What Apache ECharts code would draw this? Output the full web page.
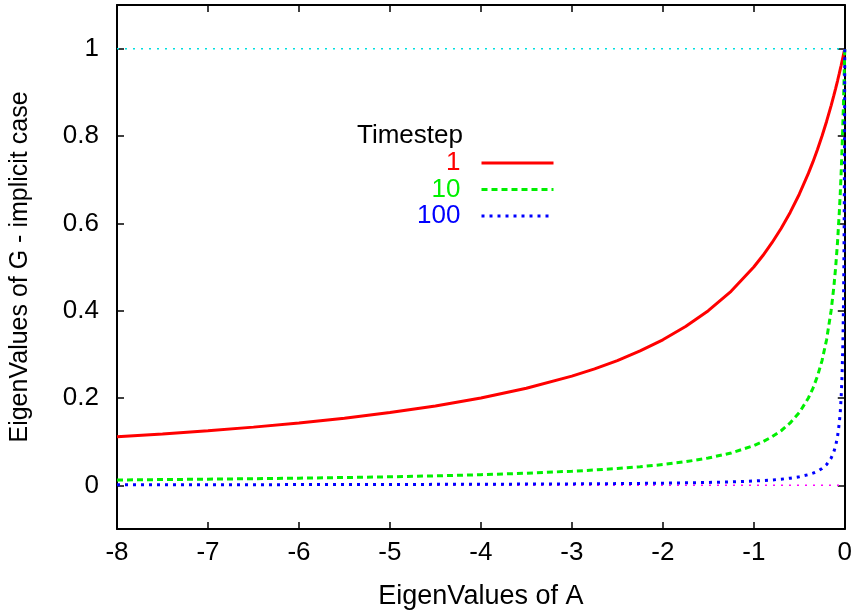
<!DOCTYPE html>
<html>
<head>
<meta charset="utf-8">
<script src="https://cdn.jsdelivr.net/npm/echarts@6/dist/echarts.min.js"></script>
<style>
html,body{margin:0;padding:0;background:#fff;}
#chart{width:855px;height:615px;}
</style>
</head>
<body>
<div id="chart"></div>
<script>
// Eigenvalues of A (x)
var xValues = [-8, -7.5, -7, -6.5, -6, -5.5, -5, -4.5, -4, -3.5, -3, -2.75, -2.5, -2.25, -2, -1.75, -1.5, -1.25, -1,
  -0.9, -0.8, -0.7, -0.6, -0.5, -0.4, -0.35, -0.3, -0.25, -0.2, -0.15, -0.12, -0.1, -0.08, -0.06, -0.05, -0.04,
  -0.03, -0.02, -0.015, -0.01, -0.007, -0.005, -0.003, -0.002, -0.001, 0];
// Timestep 1
var g1 = [0.1111, 0.1176, 0.125, 0.1333, 0.1429, 0.1538, 0.1667, 0.1818, 0.2, 0.2222, 0.25, 0.2667, 0.2857, 0.3077, 0.3333, 0.3636, 0.4, 0.4444, 0.5,
  0.5263, 0.5556, 0.5882, 0.625, 0.6667, 0.7143, 0.7407, 0.7692, 0.8, 0.8333, 0.8696, 0.8929, 0.9091, 0.9259, 0.9434, 0.9524, 0.9615,
  0.9709, 0.9804, 0.9852, 0.9901, 0.9930, 0.9950, 0.9970, 0.9980, 0.9990, 1];
// Timestep 10
var g10 = [0.0123, 0.0132, 0.0141, 0.0152, 0.0164, 0.0179, 0.0196, 0.0217, 0.0244, 0.0278, 0.0323, 0.0351, 0.0385, 0.0426, 0.0476, 0.0541, 0.0625, 0.0741, 0.0909,
  0.1, 0.1111, 0.125, 0.1429, 0.1667, 0.2, 0.2222, 0.25, 0.2857, 0.3333, 0.4, 0.4545, 0.5, 0.5556, 0.625, 0.6667, 0.7143,
  0.7692, 0.8333, 0.8696, 0.9091, 0.9346, 0.9524, 0.9709, 0.9804, 0.9901, 1];
// Timestep 100
var g100 = [0.00125, 0.00133, 0.00143, 0.00154, 0.00166, 0.00181, 0.0020, 0.00222, 0.00249, 0.00285, 0.00332, 0.00362, 0.00398, 0.00442, 0.00498, 0.00568, 0.00662, 0.00794, 0.0099,
  0.011, 0.0123, 0.0141, 0.0164, 0.0196, 0.0244, 0.0278, 0.0323, 0.0385, 0.0476, 0.0625, 0.0769, 0.0909, 0.1111, 0.1429, 0.1667, 0.2,
  0.25, 0.3333, 0.4, 0.5, 0.5882, 0.6667, 0.7692, 0.8333, 0.9091, 1];
// reference levels
var refX = [-8, 0];
var refOne = [1, 1];
var refZero = [0, 0];

var seriesNames = ['1', '10', '100'];
var legendTitle = 'Timestep';
var xTicks = [-8, -7, -6, -5, -4, -3, -2, -1, 0];
var yTicks = [0, 0.2, 0.4, 0.6, 0.8, 1];

function pairs(xs, ys) { return xs.map(function (x, i) { return [x, ys[i]]; }); }

var FONT = 'Liberation Sans, Arial, sans-serif';
var FS = 26;

var chart = echarts.init(document.getElementById('chart'));

function axisBase() {
  return {
    axisLine: { show: true, onZero: false, lineStyle: { color: '#000', width: 2 } },
    axisTick: { show: true, inside: true, length: 7, lineStyle: { color: '#000', width: 1.5 } },
    splitLine: { show: false }
  };
}

var xMain = Object.assign(axisBase(), {
  type: 'value', position: 'bottom', min: -8, max: 0,
  name: 'EigenValues of A', nameLocation: 'middle', nameGap: 54,
  nameTextStyle: { fontFamily: FONT, fontSize: 27, color: '#000' },
  axisLabel: { customValues: xTicks, margin: 11, fontFamily: FONT, fontSize: FS, color: '#000' }
});
xMain.axisTick.customValues = xTicks;
var xTop = Object.assign(axisBase(), {
  type: 'value', position: 'top', min: -8, max: 0,
  axisLabel: { show: false }
});
xTop.axisTick.customValues = xTicks;
var yMain = Object.assign(axisBase(), {
  type: 'value', position: 'left', min: -0.1, max: 1.1,
  name: 'EigenValues of G - implicit case', nameLocation: 'middle', nameGap: 84,
  nameTextStyle: { fontFamily: FONT, fontSize: 25, color: '#000' },
  axisLabel: { customValues: yTicks, margin: 18, fontFamily: FONT, fontSize: FS, color: '#000' }
});
yMain.axisTick.customValues = yTicks;
var yRight = Object.assign(axisBase(), {
  type: 'value', position: 'right', min: -0.1, max: 1.1,
  axisLabel: { show: false }
});
yRight.axisTick.customValues = yTicks;

var colors = ['#ff0000', '#00f000', '#0000ff'];
var dashes = ['solid', [6, 4], [3, 5]];
var data = [g1, g10, g100];

var series = [
  { name: 'ref1', type: 'line', xAxisIndex: 0, yAxisIndex: 0, data: pairs(refX, refOne), symbol: 'none',
    lineStyle: { color: '#00e0e0', width: 1.5, type: [2, 6] }, silent: true, z: 1 },
  { name: 'ref0', type: 'line', xAxisIndex: 0, yAxisIndex: 0, data: pairs(refX, refZero), symbol: 'none',
    lineStyle: { color: '#ff00ff', width: 1.5, type: [2, 6] }, silent: true, z: 1 }
];
seriesNames.forEach(function (n, i) {
  series.push({
    name: n, type: 'line', xAxisIndex: 0, yAxisIndex: 0, data: pairs(xValues, data[i]),
    symbol: 'none', smooth: false, color: colors[i],
    lineStyle: { color: colors[i], width: 3, type: dashes[i] }, z: 3 + i
  });
});

var legends = seriesNames.map(function (n, i) {
  return {
    data: [{ name: n, textStyle: { color: colors[i] } }],
    right: 300, top: 150 + i * 26.5,
    align: 'right', itemWidth: 72, itemHeight: 14, itemGap: 0,
    itemStyle: { opacity: 0, color: 'transparent', borderWidth: 0 },
    lineStyle: { width: 3, color: colors[i], type: dashes[i] },
    textStyle: { fontFamily: FONT, fontSize: FS, color: colors[i], padding: [0, 16, 0, 0] },
    padding: 0, selectedMode: false
  };
});

chart.setOption({
  animation: false,
  backgroundColor: '#fff',
  grid: { left: 117, right: 7, top: 5, bottom: 85, containLabel: false },
  xAxis: [xMain, xTop],
  yAxis: [yMain, yRight],
  legend: legends,
  graphic: [{
    type: 'text', left: 357, top: 123,
    style: { text: legendTitle, fontFamily: FONT, fontSize: FS, fill: '#000' }
  }],
  series: series
});
</script>
</body>
</html>
